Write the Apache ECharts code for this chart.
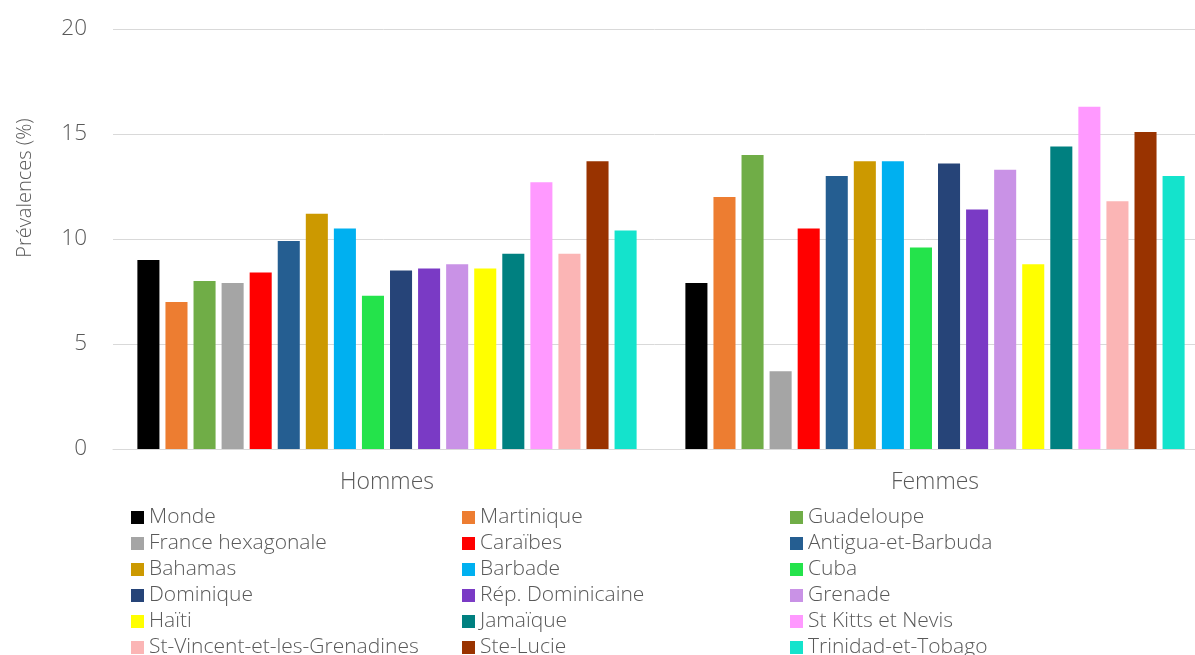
<!DOCTYPE html>
<html>
<head>
<meta charset="utf-8">
<script src="https://cdn.jsdelivr.net/npm/echarts@6/dist/echarts.min.js"></script>
<style>
html,body{margin:0;padding:0;background:#fff;}
#c{width:1195px;height:655px;}
</style>
</head>
<body>
<div id="c"></div>
<script>
const categories = ['Hommes', 'Femmes'];
const seriesNames = ['Monde', 'Martinique', 'Guadeloupe', 'France hexagonale', 'Caraïbes', 'Antigua-et-Barbuda',
  'Bahamas', 'Barbade', 'Cuba', 'Dominique', 'Rép. Dominicaine', 'Grenade',
  'Haïti', 'Jamaïque', 'St Kitts et Nevis', 'St-Vincent-et-les-Grenadines', 'Ste-Lucie', 'Trinidad-et-Tobago'];
const hommes = [9.0, 7.0, 8.0, 7.9, 8.4, 9.9, 11.2, 10.5, 7.3, 8.5, 8.6, 8.8, 8.6, 9.3, 12.7, 9.3, 13.7, 10.4];
const femmes = [7.9, 12.0, 14.0, 3.7, 10.5, 13.0, 13.7, 13.7, 9.6, 13.6, 11.4, 13.3, 8.8, 14.4, 16.3, 11.8, 15.1, 13.0];
const colors = ['#000000', '#ED7D31', '#70AD47', '#A5A5A5', '#FF0000', '#255E91',
  '#CC9900', '#00B0F0', '#24E34B', '#264478', '#7A3AC5', '#C992E6',
  '#FFFF00', '#008080', '#FF99FF', '#FBB5B5', '#993300', '#14E3CC'];
const yTicks = [0, 5, 10, 15, 20];
const yName = 'Prévalences (%)';

const FONT = '"Open Sans"';
const TXT = '#595959';

const series = seriesNames.map((n, i) => ({
  name: n,
  type: 'bar',
  data: [hommes[i], femmes[i]],
  itemStyle: { color: colors[i] },
  barGap: '27.3%',
  barCategoryGap: '8.9%'
}));

const legendCols = [0, 1, 2].map(c => seriesNames.filter((_, i) => i % 3 === c));
const legendLeft = [126, 457, 785];
const legends = legendCols.map((d, c) => ({
  data: d,
  orient: 'vertical',
  left: legendLeft[c],
  top: 502,
  height: 200,
  itemWidth: 13,
  itemHeight: 13,
  itemGap: 5,
  icon: 'rect',
  selectedMode: false,
  textStyle: { color: TXT, fontSize: 21, fontFamily: FONT, fontWeight: 300, lineHeight: 20 }
}));

const chart = echarts.init(document.getElementById('c'), null, { renderer: 'canvas' });
chart.setOption({
  animation: false,
  color: colors,
  grid: { left: 113, width: 1096, top: 29, bottom: 206, outerBoundsMode: 'none', containLabel: false },
  legend: legends,
  xAxis: {
    type: 'category',
    data: categories,
    axisLine: { show: true, lineStyle: { color: '#D9D9D9', width: 1 } },
    axisTick: { show: false },
    axisLabel: { color: TXT, fontSize: 23, fontFamily: FONT, fontWeight: 300, margin: 22 }
  },
  yAxis: {
    type: 'value',
    min: yTicks[0],
    max: yTicks[yTicks.length - 1],
    interval: 5,
    axisLine: { show: false },
    axisTick: { show: false },
    splitLine: { lineStyle: { color: '#D9D9D9', width: 1 } },
    axisLabel: { color: TXT, fontSize: 22.5, fontFamily: FONT, fontWeight: 300, margin: 26 }
  },
  graphic: [{
    type: 'text',
    x: 25,
    y: 188,
    rotation: Math.PI / 2,
    style: {
      text: yName,
      fill: TXT,
      font: '300 20px ' + FONT,
      textAlign: 'center',
      textVerticalAlign: 'middle'
    }
  }],
  series: series
});
</script>
</body>
</html>
